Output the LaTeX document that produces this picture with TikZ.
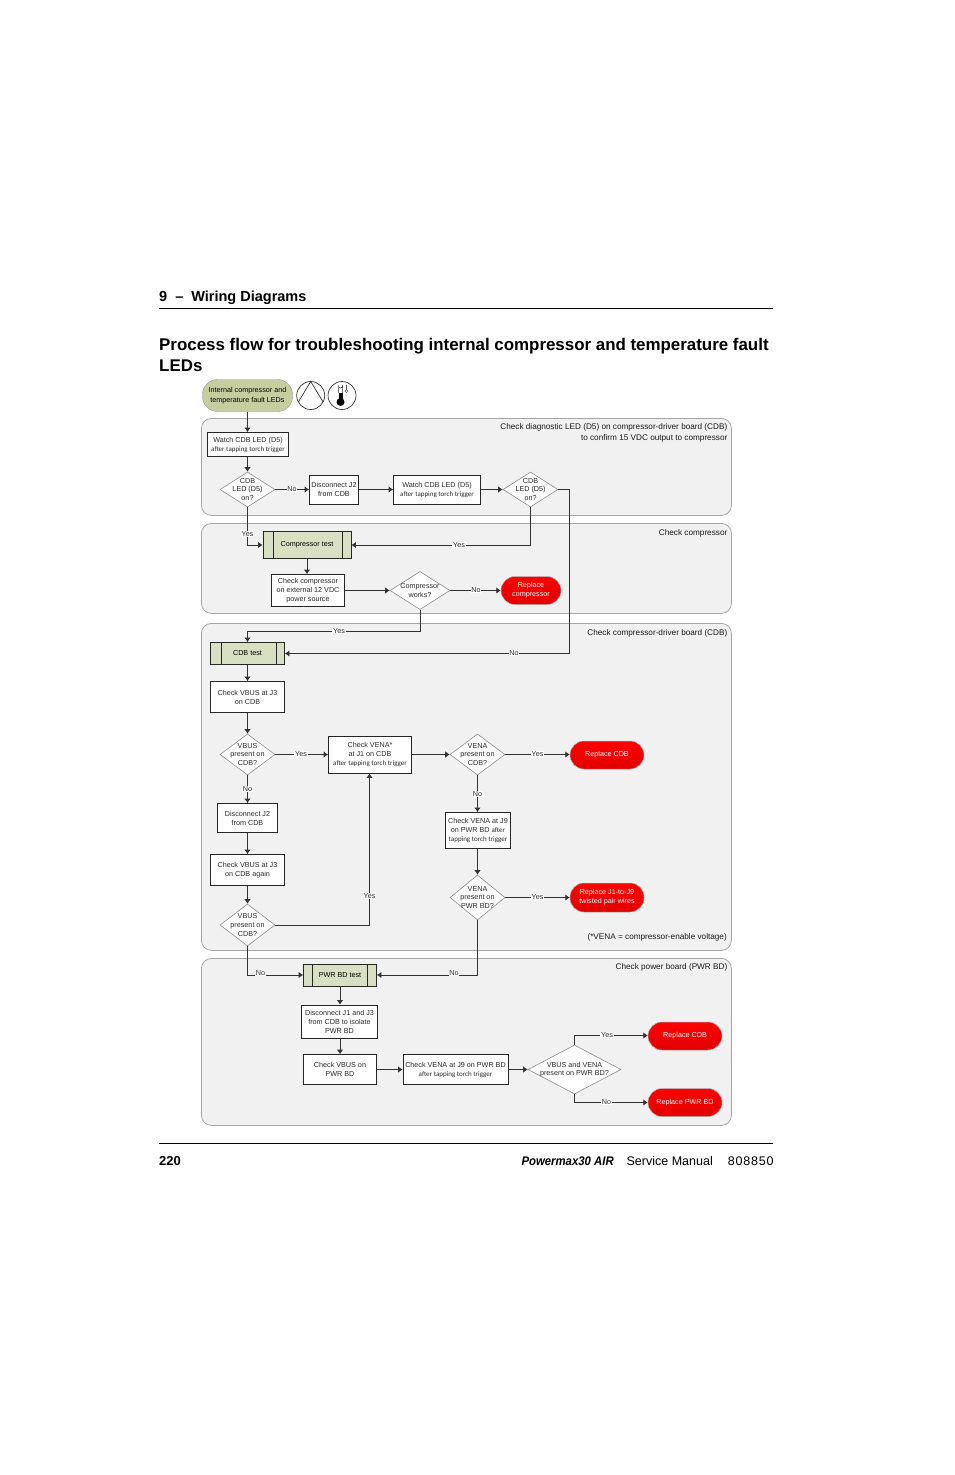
\documentclass[tikz,border=0pt]{standalone}
\usepackage{fontspec}
\setmainfont{Liberation Sans}
\newfontfamily\calfont{Carlito}
\newfontfamily\brandfont[FakeStretch=0.91]{Liberation Sans}
\newfontfamily\partfont[LetterSpace=6.6]{Liberation Sans}
\usetikzlibrary{positioning}
\usetikzlibrary{arrows.meta}
\usetikzlibrary{shapes.geometric}
\definecolor{panelfill}{HTML}{F1F1F1}
\definecolor{paneledge}{HTML}{A6A6A6}
\definecolor{testfill}{HTML}{D9DFC2}
\definecolor{startfill}{HTML}{C6CE9F}
\definecolor{inktext}{HTML}{2B2B2B}
\newcommand{\aftertap}[1]{{\calfont\fontsize{7}{9}\selectfont #1}}
\tikzset{
	panel/.style={draw=paneledge,fill=panelfill,line width=0.8pt,rounded corners=10pt,inner sep=0pt,anchor=north west},
	paneltext/.style={anchor=east,inner sep=0pt,align=right,text=black!90,font=\fontsize{8.2}{10.5}\selectfont},
	stepbox/.style={draw=black!85,fill=white,line width=0.8pt,inner sep=0pt,align=center,text=inktext,font=\fontsize{7.2}{9}\selectfont},
	testbox/.style={draw=black!85,fill=testfill,line width=0.8pt,inner sep=0pt,text=black,font=\fontsize{7.2}{9}\selectfont},
	decision/.style={diamond,draw=black!45,fill=white,line width=0.6pt,inner sep=0pt,
		label={[inner sep=0pt,align=center,text=inktext,font=\fontsize{7.2}{8.7}\selectfont]center:{#1}}},
	replacepill/.style={draw=black!30,top color=red,bottom color=red!88!black,line width=0.5pt,rounded corners=14pt,
		inner sep=0pt,align=center,text=white,font=\fontsize{7.2}{9}\selectfont},
	flow/.style={draw=black!80,line width=0.8pt,-{Latex[length=4.5pt,width=6.5pt]}},
	flowlabel/.style={fill=white,inner xsep=0.8pt,inner ysep=0.4pt,text=inktext,font=\fontsize{7.2}{8}\selectfont},
	pagetext/.style={anchor=west,inner sep=0pt,font=\bfseries\fontsize{14.5}{15}\selectfont}
}
\begin{document}
\begin{tikzpicture}[x=1pt,y=-1pt]
	\useasboundingbox (0,0) rectangle (954,1475);
	% page head
	\node[pagetext] (chapter) at (159,298) {9\hspace{8pt}--\hspace{8pt}Wiring Diagrams};
	\coordinate (headL) at (159,308.5);
	\coordinate (headR) at (773,308.5);
	\draw[line width=0.8pt] (headL) -- (headR);
	\node[pagetext,font=\bfseries\fontsize{16.9}{20}\selectfont] (titleA) at (159,346) {Process flow for troubleshooting internal compressor and temperature fault};
	\node[pagetext,font=\bfseries\fontsize{16.9}{20}\selectfont] (titleB) at (159,366) {LEDs};
	% panels
	\node[panel,minimum width=530pt,minimum height=97pt] (panelLed) at (201,418) {};
	\node[panel,minimum width=530pt,minimum height=90pt] (panelComp) at (201,523) {};
	\node[panel,minimum width=530pt,minimum height=327pt] (panelCdb) at (201,623) {};
	\node[panel,minimum width=530pt,minimum height=167pt] (panelPwr) at (201,958) {};
	\node[paneltext] (noteLed) at (727.5,433) {Check diagnostic LED (D5) on compressor-driver board (CDB)\\to confirm 15 VDC output to compressor};
	\node[paneltext] (noteComp) at (727.5,533) {Check compressor};
	\node[paneltext] (noteCdb) at (727.5,633) {Check compressor-driver board (CDB)};
	\node[paneltext] (notePwr) at (727.5,967.5) {Check power board (PWR BD)};
	\node[paneltext] (noteVena) at (727,937.5) {(*VENA = compressor-enable voltage)};
	% start and fault icons
	\node[draw=black!40,fill=startfill,rounded corners=15pt,minimum width=90pt,minimum height=32pt,inner sep=0pt,align=center,font=\fontsize{7.2}{9.5}\selectfont] (start) at (247.5,395.5) {Internal compressor and\\temperature fault LEDs};
	\node[circle,draw=black!80,line width=0.7pt,minimum size=28pt,inner sep=0pt] (iconComp) at (310.7,395.5) {};
	\coordinate (compTop) at (310.7,381.5);
	\coordinate (compL) at (298.3,402);
	\coordinate (compR) at (323.1,402);
	\draw[line width=0.7pt,black!80] (compL) -- (compTop) -- (compR);
	\node[circle,draw=black!80,line width=0.7pt,minimum size=28pt,inner sep=0pt] (iconTemp) at (342,395.5) {};
	\draw[line width=0.5pt,black!80] (338.5,393) -- (338.5,386) arc[start angle=180,end angle=0,radius=2] -- (342.5,393);
	\fill[black] (338.5,393) rectangle (342.5,400);
	\fill[black] (340.5,402) circle[radius=4];
	\draw[line width=0.5pt,black!70] (346,384.5) -- (346,389.5);
	\draw[line width=0.5pt,black!70] (346.5,391) circle[radius=1.6];
	% led check
	\node[stepbox,minimum width=81pt,minimum height=24pt] (watchA) at (248,444.5) {Watch CDB LED (D5)\\\aftertap{after tapping torch trigger}};
	\node[decision={CDB\\LED (D5)\\on?},minimum width=55pt,minimum height=35pt] (ledA) at (247.5,489.5) {};
	\node[stepbox,minimum width=49pt,minimum height=29pt] (discA) at (334,489.5) {Disconnect J2\\from CDB};
	\node[stepbox,minimum width=87pt,minimum height=29pt] (watchB) at (437,489.5) {Watch CDB LED (D5)\\\aftertap{after tapping torch trigger}};
	\node[decision={CDB\\LED (D5)\\on?},minimum width=55pt,minimum height=35pt] (ledB) at (530.5,489.5) {};
	% compressor check
	\node[testbox,minimum width=88pt,minimum height=27pt] (testComp) at (307,545) {Compressor test};
	\node[stepbox,minimum width=73pt,minimum height=32pt] (checkComp) at (308,590.5) {Check compressor\\on external 12 VDC\\power source};
	\node[decision={Compressor\\works?},minimum width=60pt,minimum height=38pt] (works) at (420,590.5) {};
	\node[replacepill,minimum width=60pt,minimum height=28pt] (replComp) at (531,590.5) {Replace\\compressor};
	% compressor-driver board
	\node[testbox,minimum width=74pt,minimum height=22pt] (testCdb) at (247.5,653.5) {CDB test};
	\node[stepbox,minimum width=74pt,minimum height=31pt] (vbusA) at (247.5,697) {Check VBUS at J3\\on CDB};
	\node[decision={VBUS\\present on\\CDB?},minimum width=55pt,minimum height=41pt] (vbusQA) at (247.5,754.5) {};
	\node[stepbox,minimum width=60pt,minimum height=29pt] (discB) at (247.5,818) {Disconnect J2\\from CDB};
	\node[stepbox,minimum width=74pt,minimum height=31pt] (vbusB) at (247.5,870) {Check VBUS at J3\\on CDB again};
	\node[decision={VBUS\\present on\\CDB?},minimum width=55pt,minimum height=42pt] (vbusQB) at (247.5,925) {};
	\node[stepbox,minimum width=83pt,minimum height=37pt] (venaA) at (370,754.5) {Check VENA*\\at J1 on CDB\\\aftertap{after tapping torch trigger}};
	\node[decision={VENA\\present on\\CDB?},minimum width=55pt,minimum height=41pt] (venaQA) at (477.5,754.5) {};
	\node[replacepill,minimum width=74pt,minimum height=28pt] (replCdbA) at (607,755) {Replace CDB};
	\node[stepbox,minimum width=65pt,minimum height=36pt] (venaB) at (478,830.5) {Check VENA at J9\\on PWR BD \aftertap{after}\\\aftertap{tapping torch trigger}};
	\node[decision={VENA\\present on\\PWR BD?},minimum width=55pt,minimum height=45pt] (venaQB) at (477.5,897.5) {};
	\node[replacepill,minimum width=74pt,minimum height=29pt] (replWires) at (607,897.5) {Replace J1-to-J9\\twisted pair wires};
	% power board
	\node[testbox,minimum width=73pt,minimum height=22pt] (testPwr) at (340,975) {PWR BD test};
	\node[stepbox,minimum width=76pt,minimum height=33pt] (discC) at (339.5,1021.5) {Disconnect J1 and J3\\from CDB to isolate\\PWR BD};
	\node[stepbox,minimum width=73pt,minimum height=30pt] (vbusC) at (340,1069.5) {Check VBUS on\\PWR BD};
	\node[stepbox,minimum width=105pt,minimum height=30pt] (venaC) at (455.5,1069.5) {Check VENA at J9 on PWR BD\\\aftertap{after tapping torch trigger}};
	\node[decision={VBUS and VENA\\present on PWR BD?},minimum width=93pt,minimum height=49pt] (bothQ) at (574.5,1069.5) {};
	\node[replacepill,minimum width=74pt,minimum height=28pt] (replCdbB) at (685,1036) {Replace CDB};
	\node[replacepill,minimum width=74pt,minimum height=28pt] (replPwr) at (685,1102.5) {Replace PWR BD};
	% side bars of the test boxes
	\draw[line width=0.8pt,black!85] (273,531.5) -- (273,558.5) (342,531.5) -- (342,558.5);
	\draw[line width=0.8pt,black!85] (221,642.5) -- (221,664.5) (276,642.5) -- (276,664.5);
	\draw[line width=0.8pt,black!85] (312,964) -- (312,986) (367,964) -- (367,986);
	% connectors
	\coordinate (busB) at (569.5,489.5);
	\coordinate (busWorks) at (247.5,631.5);
	\coordinate (busVbus) at (369.5,925);
	\coordinate (busBoth) at (574.5,1035.5);
	\draw[flow] (start) -- (start |- watchA.north);
	\draw[flow] (watchA.south -| ledA) -- (ledA.north);
	\draw[flow] (ledA.east) -- (discA.west);
	\draw[flow] (discA.east) -- (watchB.west);
	\draw[flow] (watchB.east) -- (ledB.west);
	\draw[flow] (ledA.south) |- (testComp.west);
	\draw[flow] (ledB.south) |- (testComp.east);
	\draw[flow] (ledB.east) -- (busB) |- (testCdb.east);
	\draw[flow] (testComp.south) -- (testComp.south |- checkComp.north);
	\draw[flow] (checkComp.east) -- (works.west);
	\draw[flow] (works.east) -- (replComp.west);
	\draw[flow] (works.south) |- (busWorks) -- (testCdb.north);
	\draw[flow] (testCdb.south) -- (vbusA.north);
	\draw[flow] (vbusA.south) -- (vbusQA.north);
	\draw[flow] (vbusQA.east) -- (venaA.west);
	\draw[flow] (vbusQA.south) -- (discB.north);
	\draw[flow] (discB.south) -- (vbusB.north);
	\draw[flow] (vbusB.south) -- (vbusQB.north);
	\draw[flow] (vbusQB.east) -- (busVbus) -- (busVbus |- venaA.south);
	\draw[flow] (venaA.east) -- (venaQA.west);
	\draw[flow] (venaQA.east) -- (replCdbA.west |- venaQA.east);
	\draw[flow] (venaQA.south) -- (venaB.north -| venaQA.south);
	\draw[flow] (venaB.south -| venaQB.north) -- (venaQB.north);
	\draw[flow] (venaQB.east) -- (replWires.west);
	\draw[flow] (vbusQB.south) |- (testPwr.west);
	\draw[flow] (venaQB.south) |- (testPwr.east);
	\draw[flow] (testPwr.south) -- (discC.north -| testPwr.south);
	\draw[flow] (discC.south -| vbusC.north) -- (vbusC.north);
	\draw[flow] (vbusC.east) -- (venaC.west);
	\draw[flow] (venaC.east) -- (bothQ.west);
	\draw[flow] (bothQ.north) -- (busBoth) -- (busBoth -| replCdbB.west);
	\draw[flow] (bothQ.south) |- (replPwr.west);
	% labels on the connectors
	\node[flowlabel] (noLedA) at (292,489.5) {No};
	\node[flowlabel] (yesLedA) at (247.5,534) {Yes};
	\node[flowlabel] (yesLedB) at (459,545) {Yes};
	\node[flowlabel] (noLedB) at (514,653) {No};
	\node[flowlabel] (noWorks) at (476,590.5) {No};
	\node[flowlabel] (yesWorks) at (339,631) {Yes};
	\node[flowlabel] (yesVbusA) at (301,754) {Yes};
	\node[flowlabel] (noVbusA) at (247.5,789) {No};
	\node[flowlabel] (yesVbusB) at (369.5,896) {Yes};
	\node[flowlabel] (yesVenaA) at (537.5,754) {Yes};
	\node[flowlabel] (noVenaA) at (477.5,794) {No};
	\node[flowlabel] (yesVenaB) at (537.5,897) {Yes};
	\node[flowlabel] (noVbusB) at (260.5,973.5) {No};
	\node[flowlabel] (noVenaB) at (454,973.5) {No};
	\node[flowlabel] (yesBoth) at (607,1035.5) {Yes};
	\node[flowlabel] (noBoth) at (606.5,1102) {No};
	% page foot
	\coordinate (footL) at (159,1143.5);
	\coordinate (footR) at (773,1143.5);
	\draw[line width=0.8pt] (footL) -- (footR);
	\node[pagetext,font=\bfseries\fontsize{13}{15}\selectfont] (pageNo) at (159,1161.5) {220};
	\node[pagetext,anchor=east,font=\brandfont\bfseries\itshape\fontsize{12.5}{15}\selectfont] (brand) at (614,1161.5) {Powermax30 AIR};
	\node[pagetext,anchor=east,font=\fontsize{12.5}{15}\selectfont] (manual) at (713,1161.5) {Service Manual};
	\node[pagetext,anchor=east,font=\partfont\fontsize{12.5}{15}\selectfont] (partNo) at (773.8,1161.5) {808850};
\end{tikzpicture}
\end{document}
